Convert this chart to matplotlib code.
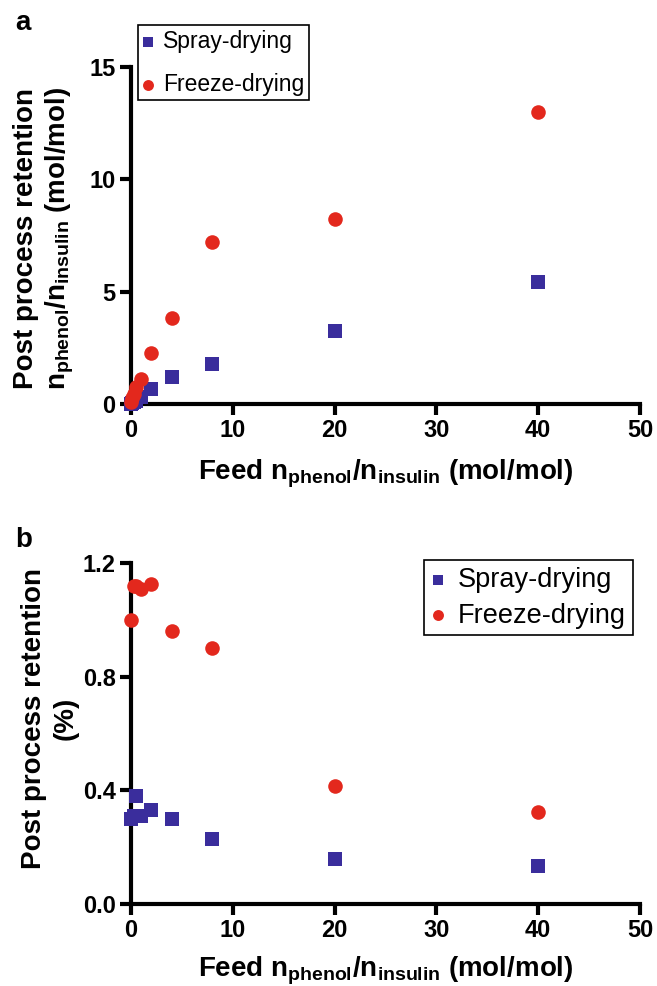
import matplotlib
matplotlib.use("Agg")
import matplotlib.pyplot as plt

plt.rcParams['font.family'] = ['Liberation Sans', 'DejaVu Sans']
plt.rcParams['mathtext.fontset'] = 'custom'
plt.rcParams['mathtext.bf'] = 'Liberation Sans:bold'
plt.rcParams['mathtext.rm'] = 'Liberation Sans:bold'
plt.rcParams['mathtext.default'] = 'bf'

# panel a: retained phenol (mol/mol) vs feed ratio
feed_a = [0, 0.1, 0.25, 0.5, 1, 2, 4, 8, 20, 40]
spray_a = [0.0, 0.03, 0.08, 0.15, 0.3, 0.65, 1.2, 1.8, 3.25, 5.45]
freeze_a = [0.1, 0.25, 0.45, 0.75, 1.1, 2.25, 3.85, 7.2, 8.25, 13.0]

# panel b: retention (%) vs feed ratio
feed_b = [0, 0.25, 0.5, 1, 2, 4, 8, 20, 40]
spray_b = [0.30, 0.31, 0.38, 0.31, 0.33, 0.30, 0.23, 0.16, 0.135]
freeze_b = [1.0, 1.12, 1.12, 1.11, 1.125, 0.96, 0.90, 0.415, 0.325]

blue = '#3a2d9c'
red = '#e3281d'
xlab = r'Feed $n_{phenol}/n_{insulin}$ (mol/mol)'

fig = plt.figure(figsize=(6.57, 9.86), dpi=100)
ax_a = fig.add_axes([131/657, 1-404/986, 509/657, 337/986])
ax_b = fig.add_axes([131/657, 1-904/986, 509/657, 341/986])


def style(ax):
    for s in ['top', 'right']:
        ax.spines[s].set_visible(False)
    for s in ['left', 'bottom']:
        ax.spines[s].set_linewidth(3)
    ax.tick_params(width=3, length=8, labelsize=17, pad=3)
    for t in ax.get_xticklabels() + ax.get_yticklabels():
        t.set_fontweight('bold')


for ax, fx, sp, fr in [(ax_a, feed_a, spray_a, freeze_a), (ax_b, feed_b, spray_b, freeze_b)]:
    ax.scatter(fx, sp, marker='s', s=100, color=blue, clip_on=False, zorder=5,
               linewidths=0, label='Spray-drying')
    ax.scatter(fx, fr, marker='o', s=110, color=red, clip_on=False, zorder=5,
               linewidths=0, label='Freeze-drying')
    ax.set_xlim(0, 50)
    ax.set_xticks([0, 10, 20, 30, 40, 50])

ax_a.set_ylim(0, 15)
ax_a.set_yticks([0, 5, 10, 15])
ax_b.set_ylim(0, 1.2)
ax_b.set_yticks([0, 0.4, 0.8, 1.2])
ax_b.set_yticklabels(['0.0', '0.4', '0.8', '1.2'])

style(ax_a)
style(ax_b)

ax_a.set_xlabel(xlab, fontsize=20, fontweight='bold', labelpad=11)
ax_b.set_xlabel(xlab, fontsize=20, fontweight='bold', labelpad=9)
ax_a.set_ylabel('Post process retention\n' + r'$n_{phenol}/n_{insulin}$ (mol/mol)',
                fontsize=20, fontweight='bold', linespacing=1.2)
ax_b.set_ylabel('Post process retention\n(%)', fontsize=20, fontweight='bold',
                linespacing=1.3)
# ylabel anchor is the right edge of the text block
ax_a.yaxis.set_label_coords(-0.108, 0.49)
ax_b.yaxis.set_label_coords(-0.102, 0.545)

legends = [(ax_a, (138/657, 1-25/986), 16.5, 0.88, 0.2, 0.4),
           (ax_b, (424/657, 1-560/986), 19.5, 0.36, 0.25, 0.5)]
for ax, anchor, fs, ls, bp, tp in legends:
    leg = ax.legend(loc='upper left', bbox_to_anchor=anchor, bbox_transform=fig.transFigure,
                    borderaxespad=0, fancybox=False, edgecolor='black', fontsize=fs,
                    handlelength=0.5, handletextpad=tp, borderpad=bp, labelspacing=ls,
                    markerscale=0.75, framealpha=1)
    leg.get_frame().set_linewidth(1.2)

fig.text(15/657, 1-23/986, 'a', fontsize=20, fontweight='bold', va='center')
fig.text(15/657, 1-540/986, 'b', fontsize=20, fontweight='bold', va='center')

fig.savefig('out.png', dpi=100)
